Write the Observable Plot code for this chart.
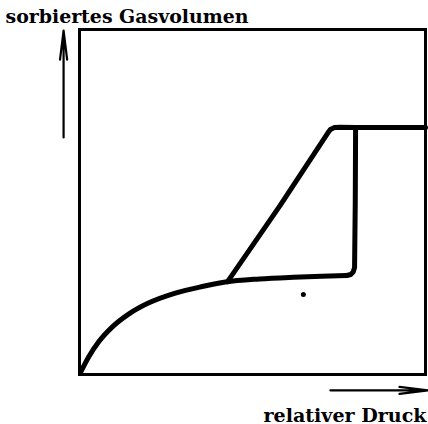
<!DOCTYPE html>
<html><head><meta charset="utf-8">
<script src="https://cdn.jsdelivr.net/npm/d3@7"></script>
<script src="https://cdn.jsdelivr.net/npm/@observablehq/plot@0.6"></script>
<style>body{margin:0;background:#fff}</style>
</head><body><div id="chart"></div>
<script>
// Adsorption branch, smooth rising part (relative pressure, sorbed volume), normalized 0..1
const adsorptionCurveX = [0.003, 0.026, 0.055, 0.095, 0.142, 0.199, 0.277, 0.355, 0.422, 0.52, 0.618, 0.70, 0.772];
const adsorptionCurveY = [0.006, 0.050, 0.094, 0.138, 0.175, 0.207, 0.236, 0.255, 0.268, 0.277, 0.282, 0.285, 0.287];
// Adsorption branch, step up and plateau
const adsorptionStepX = [0.772, 0.784, 0.791, 0.795, 0.797, 0.798, 0.86, 1.0];
const adsorptionStepY = [0.287, 0.290, 0.297, 0.31, 0.50, 0.716, 0.716, 0.716];
// Desorption branch
const desorptionX = [0.428, 0.58, 0.717, 0.725, 0.737, 0.754, 0.798];
const desorptionY = [0.269, 0.49, 0.699, 0.710, 0.716, 0.717, 0.716];
// Ink speck in the original
const speckX = [0.647];
const speckY = [0.232];
// Axis direction arrows
const arrows = [
  {x1: -0.046, y1: 0.687, x2: -0.046, y2: 0.997},
  {x1: 0.725, y1: -0.046, x2: 1.009, y2: -0.046}
];
const yLabel = "sorbiertes Gasvolumen";
const xLabel = "relativer Druck";

const zip = (xs, ys) => xs.map((x, i) => ({x, y: ys[i]}));
const lineOpts = {x: "x", y: "y", stroke: "#000", strokeWidth: 5, strokeLinejoin: "round", strokeLinecap: "round"};

const chart = Plot.plot({
  width: 428, height: 424,
  marginLeft: 79, marginRight: 3, marginTop: 29, marginBottom: 50,
  x: {domain: [0, 1], axis: null},
  y: {domain: [0, 1], axis: null},
  style: {background: "#fff"},
  marks: [
    Plot.frame({stroke: "#000", strokeWidth: 3}),
    Plot.line(zip(adsorptionCurveX, adsorptionCurveY), {...lineOpts, curve: "monotone-x"}),
    Plot.line(zip(adsorptionStepX, adsorptionStepY), {...lineOpts, curve: "linear"}),
    Plot.line(zip(desorptionX, desorptionY), {...lineOpts, curve: "linear"}),
    Plot.dot(zip(speckX, speckY), {x: "x", y: "y", r: 2.5, fill: "#000", stroke: null}),
    Plot.arrow(arrows, {x1: "x1", y1: "y1", x2: "x2", y2: "y2", stroke: "#000", strokeWidth: 2.2, headLength: 20, headAngle: 14}),
    Plot.text([yLabel], {frameAnchor: "top-left", dx: -74, dy: -7, textAnchor: "start", lineAnchor: "bottom", fontFamily: "DejaVu Serif", fontWeight: "bold", fontSize: 18, fill: "#000", className: "lab-y"}),
    Plot.text([xLabel], {frameAnchor: "bottom-right", dx: 1, dy: 47, textAnchor: "end", lineAnchor: "bottom", fontFamily: "DejaVu Serif", fontWeight: "bold", fontSize: 18, fill: "#000", className: "lab-x"})
  ]
});
d3.select(chart).select(".lab-y text").attr("textLength", 243).attr("lengthAdjust", "spacingAndGlyphs");
d3.select(chart).select(".lab-x text").attr("textLength", 163).attr("lengthAdjust", "spacingAndGlyphs");
document.getElementById("chart").appendChild(chart);
</script>
</body></html>
